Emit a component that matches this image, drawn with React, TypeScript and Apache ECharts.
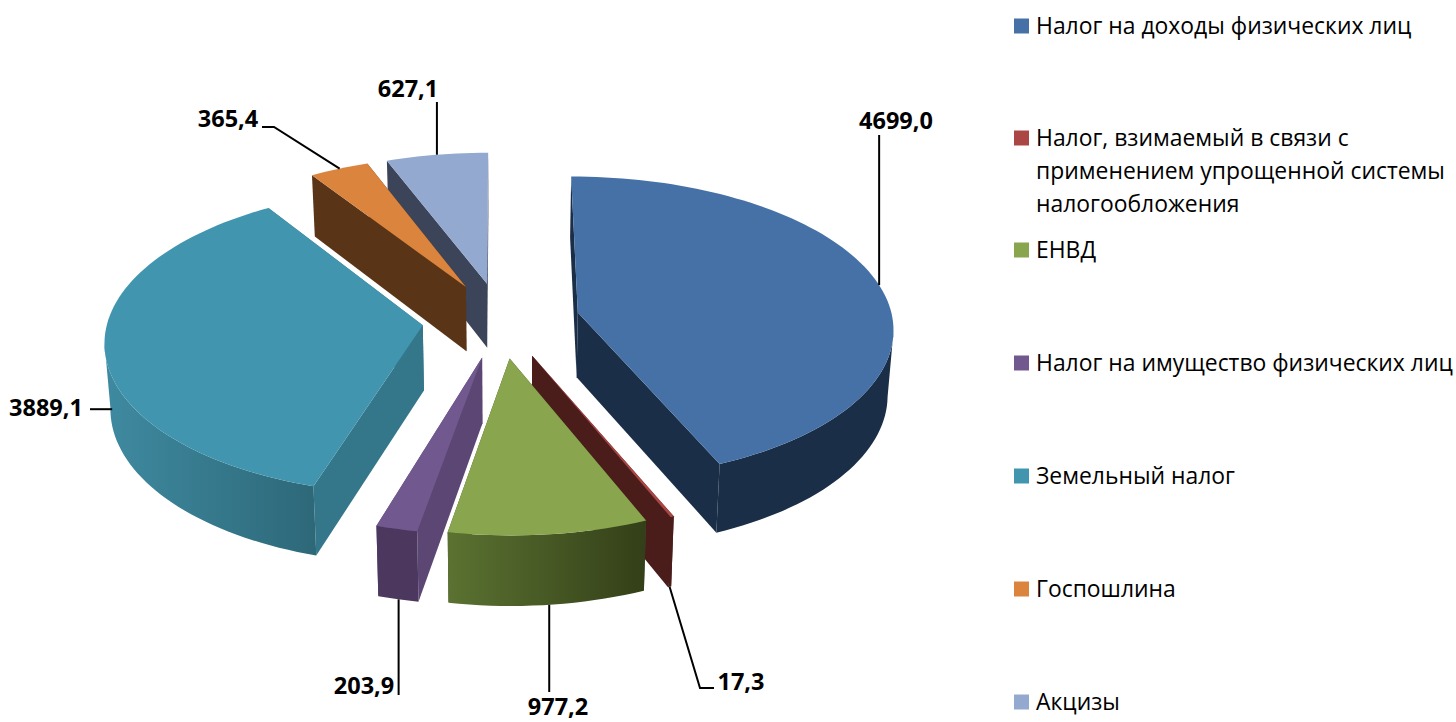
import React, { useEffect, useRef } from "react";
import * as echarts from "echarts";

const categories = [
  "Налог на доходы физических лиц",
  "Налог, взимаемый в связи с применением упрощенной системы налогообложения",
  "ЕНВД",
  "Налог на имущество физических лиц",
  "Земельный налог",
  "Госпошлина",
  "Акцизы",
];
const values = [4699.0, 17.3, 977.2, 203.9, 3889.1, 365.4, 627.1];
const legendLines = [
  ["Налог на доходы физических лиц"],
  ["Налог, взимаемый в связи с", "применением упрощенной системы", "налогообложения"],
  ["ЕНВД"],
  ["Налог на имущество физических лиц"],
  ["Земельный налог"],
  ["Госпошлина"],
  ["Акцизы"],
];

const topColors = ["#4571A6", "#AA4643", "#89A54E", "#71588F", "#4195AE", "#DB843D", "#93A9CF"];
const wallColors = ["#1B2E47", "#4A1C1A", "#3F4F22", "#5C4674", "#34768A", "#5A3417", "#3B4459"];
const arcStops: [string, string][] = [
  ["#1B2E47", "#1B2E47"],
  ["#4A1C1A", "#4A1C1A"],
  ["#5B7231", "#333F18"],
  ["#4C375F", "#4C375F"],
  ["#3F8AA1", "#2D6878"],
  ["#5A3417", "#5A3417"],
  ["#3B4459", "#3B4459"],
];

// projection of the tilted pie
const CX = 501, CY = 320, RX = 315, RY = 151, DEPTH = 65, EXPLODE = 0.25, TAPER = 0.015;
const PERSP_X = 0.095, PERSP_Y = 0.1, DEPTH_PERSP = 0.6;
const total = values.reduce((a, b) => a + b, 0);
const angles = values.map((_, i) => {
  const before = values.slice(0, i).reduce((a, b) => a + b, 0);
  return [(before / total) * Math.PI * 2, ((before + values[i]) / total) * Math.PI * 2];
});
const mid = (i: number) => (angles[i][0] + angles[i][1]) / 2;

function project(i: number, r: number, a: number, h: number): [number, number] {
  const u = EXPLODE * Math.sin(mid(i)) + r * Math.sin(a);
  const v = -EXPLODE * Math.cos(mid(i)) - r * Math.cos(a);
  const sx = 1 / (1 - PERSP_X * v);
  const sy = 1 / (1 - PERSP_Y * v);
  return [CX + RX * u * sx * (1 - h * TAPER), CY + RY * v * sy + h * DEPTH * (1 + (sy - 1) * DEPTH_PERSP)];
}

function arcPoints(i: number, h: number) {
  const [a0, a1] = angles[i];
  const n = Math.max(4, Math.ceil((a1 - a0) / 0.03));
  const pts: [number, number][] = [];
  for (let k = 0; k <= n; k++) pts.push(project(i, 1, a0 + ((a1 - a0) * k) / n, h));
  return pts;
}

// leader layout: t = position along the slice's arc, bottom = whether it starts at the lower rim
const leaders = [
  { t: 0.505, bottom: 0, outer: [[null, 135]], text: [896, 120] },
  { t: 0.5, bottom: 1, outer: [[700, 688], [714, 688]], text: [741, 681] },
  { t: 0.495, bottom: 1, outer: [[null, 692]], text: [558, 705.5] },
  { t: 0.49, bottom: 1, outer: [[null, 695]], text: [364, 685] },
  { t: 0.44, bottom: 0.62, outer: [[90, null]], text: [46, 407] },
  { t: 0.51, bottom: 0, outer: [[274, 127], [262, 127]], text: [228, 118] },
  { t: 0.5, bottom: 0, outer: [[null, 102]], text: [408, 88] },
];

const LABEL_FONT = "Open Sans";
const fmt = (v: number) => v.toFixed(1).replace(".", ",");

const order = values
  .map((_, i) => i)
  .sort((a, b) => -Math.cos(mid(a)) - -Math.cos(mid(b)));

function renderSlice(_params: any, api: any) {
  const value = api.value(0);
  const i = api.value(1);
  const [a0, a1] = angles[i];
  const apexT = project(i, 0, 0, 0);
  const apexB = project(i, 0, 0, 1);
  const edge = (a: number) => {
    const t = project(i, 1, a, 0);
    const b = project(i, 1, a, 1);
    return {
      type: "polygon",
      shape: { points: [apexT, t, b, apexB] },
      style: { fill: wallColors[i] },
      silent: true,
    };
  };
  const topArc = arcPoints(i, 0);
  const botArc = arcPoints(i, 1);
  // the rim wall is only seen where the arc runs right-to-left (its front-facing part)
  const frontIdx = topArc.map((_, k) => k).filter((k) => {
    const prev = k > 0 && topArc[k][0] < topArc[k - 1][0];
    const next = k < topArc.length - 1 && topArc[k + 1][0] < topArc[k][0];
    return prev || next;
  });
  const wall = frontIdx.length >= 2
    ? [{
        type: "polygon",
        shape: {
          points: [
            ...frontIdx.map((k) => topArc[k]),
            ...frontIdx.slice().reverse().map((k) => botArc[k]),
          ],
        },
        style: {
          fill: new echarts.graphic.LinearGradient(0, 0, 1, 0, [
            { offset: 0, color: arcStops[i][0] },
            { offset: 1, color: arcStops[i][1] },
          ]),
        },
        silent: true,
      }]
    : [];
  const top = {
    type: "polygon",
    shape: { points: [apexT, ...topArc] },
    style: { fill: topColors[i] },
    silent: true,
  };
  const l = leaders[i];
  const ang = a0 + (a1 - a0) * l.t;
  const t0 = project(i, 1, ang, 0);
  const t1 = project(i, 1, ang, 1);
  const anchor: [number, number] = [t0[0] + (t1[0] - t0[0]) * l.bottom, t0[1] + (t1[1] - t0[1]) * l.bottom];
  const line = [anchor, ...l.outer.map((p) => [p[0] ?? anchor[0], p[1] ?? anchor[1]])];
  return {
    type: "group",
    children: [
      edge(a0),
      edge(a1),
      ...wall,
      top,
      {
        type: "polyline",
        shape: { points: line },
        style: { stroke: "#000", lineWidth: 2, fill: "none" },
        silent: true,
      },
      {
        type: "text",
        x: l.text[0],
        y: l.text[1],
        style: {
          text: fmt(value),
          fontFamily: LABEL_FONT,
          fontWeight: "bold",
          fontSize: 23.5,
          fill: "#000",
          align: "center",
          verticalAlign: "middle",
        },
        silent: true,
      },
    ],
  };
}

const LEGEND_X = 1014, SWATCH = 15, TEXT_X = 1036, LINE_H = 33;
const legendY = [26, 138, 250, 363, 476, 589, 702];

function legendGraphics() {
  const out: any[] = [];
  legendLines.forEach((lines, i) => {
    out.push({
      type: "rect",
      shape: { x: LEGEND_X, y: legendY[i] - SWATCH / 2, width: SWATCH, height: SWATCH },
      style: { fill: topColors[i] },
      silent: true,
    });
    lines.forEach((text, k) => {
      out.push({
        type: "text",
        x: TEXT_X,
        y: legendY[i] - 1 + k * LINE_H,
        style: {
          text,
          fontFamily: "Open Sans",
          fontSize: 22.9,
          fill: "#000",
          align: "left",
          verticalAlign: "middle",
        },
        silent: true,
      });
    });
  });
  return out;
}

export default function App() {
  const ref = useRef<HTMLDivElement>(null);
  useEffect(() => {
    const chart = echarts.init(ref.current!, undefined, { renderer: "svg" });
    chart.setOption({
      animation: false,
      backgroundColor: "#fff",
      graphic: legendGraphics(),
      series: [
        {
          type: "custom",
          coordinateSystem: "none",
          renderItem: renderSlice,
          data: order.map((i) => ({ name: categories[i], value: [values[i], i] })),
          silent: true,
        },
      ],
    });
    return () => chart.dispose();
  }, []);
  return <div ref={ref} style={{ position: "absolute", left: 0, top: 0, width: 1456, height: 722 }} />;
}
